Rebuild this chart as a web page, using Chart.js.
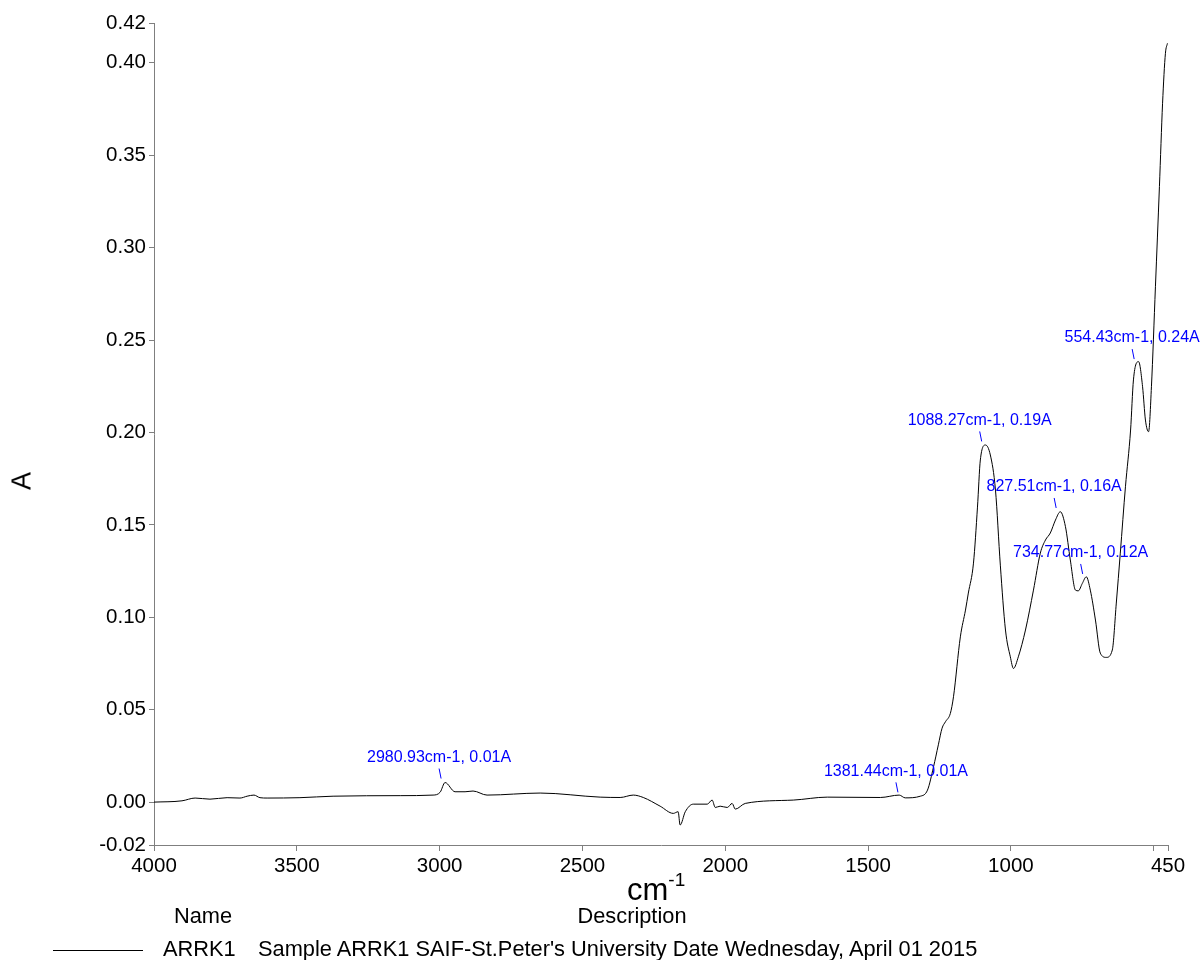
<!DOCTYPE html>
<html><head><meta charset="utf-8">
<script src="https://cdn.jsdelivr.net/npm/chart.js@4/dist/chart.umd.min.js"></script>
<style>
body{margin:0;background:#fff;font-family:"Liberation Sans",Arial,sans-serif;}
#wrap{position:relative;width:1201px;height:960px;overflow:hidden;background:#fff;}
canvas{position:absolute;left:0;top:0;}
.t{position:absolute;color:#000;white-space:nowrap;line-height:1;}
</style></head><body>
<div id="wrap">
<canvas id="c" width="1201" height="960"></canvas>
<div class="t" style="left:22px;top:481px;font-size:27px;transform:translate(-50%,-50%) rotate(-90deg);">A</div>
<div class="t" style="left:627px;top:874px;font-size:31px;">cm<span style="font-size:19px;position:relative;top:-14px;">-1</span></div>
<div class="t" style="left:203px;top:916px;font-size:21.8px;transform:translate(-50%,-50%);">Name</div>
<div class="t" style="left:632px;top:916px;font-size:21.8px;transform:translate(-50%,-50%);">Description</div>
<div style="position:absolute;left:53px;top:950px;width:90px;height:1px;background:#000;"></div>
<div class="t" style="left:163px;top:949px;font-size:21.8px;transform:translate(0,-50%);">ARRK1</div>
<div class="t" style="left:258px;top:949px;font-size:21.8px;transform:translate(0,-50%);">Sample ARRK1 SAIF-St.Peter's University Date Wednesday, April 01 2015</div>
</div>
<script>
const wavenumbers = [4000,3902,3856,3804,3744,3699,3674,3650,3629,3604,3489,3373,3138,3023,2998,2981,2946,2911,2883,2834,2648,2438,2368,2322,2287,2228,2182,2165,2158,2140,2112,2063,2046,2035,2018,1993,1976,1965,1930,1762,1643,1457,1391,1370,1317,1292,1271,1254,1241,1229,1212,1201,1177,1159,1149,1131,1117,1107,1089,1072,1054,1037,1019,1002,991,974,949,921,897,879,862,844,827,809,792,774,764,750,736,722,704,687,666,645,631,617,599,581,571,553,539,529,518,508,494,480,469,459,452];
const absorbance = [0.0000,0.0007,0.0022,0.0016,0.0024,0.0022,0.0032,0.0038,0.0024,0.0022,0.0024,0.0032,0.0035,0.0038,0.0054,0.0106,0.0056,0.0056,0.0060,0.0038,0.0049,0.0027,0.0025,0.0038,0.0025,-0.0022,-0.0061,-0.0052,-0.0124,-0.0052,-0.0011,-0.0011,0.0011,-0.0029,-0.0022,-0.0029,-0.0007,-0.0038,-0.0007,0.0011,0.0027,0.0025,0.0038,0.0023,0.0032,0.0065,0.0190,0.0310,0.0400,0.0435,0.0480,0.0570,0.0894,0.1039,0.1131,0.1293,0.1596,0.1851,0.1932,0.1878,0.1688,0.1282,0.0931,0.0786,0.0723,0.0786,0.0931,0.1147,0.1347,0.1418,0.1456,0.1526,0.1571,0.1490,0.1310,0.1147,0.1143,0.1183,0.1219,0.1147,0.0985,0.0806,0.0783,0.0823,0.1077,0.1347,0.1706,0.2013,0.2284,0.2383,0.2247,0.2067,0.2004,0.2247,0.2788,0.3330,0.3781,0.4051,0.4105];
const xTickValues = [4000,3500,3000,2500,2000,1500,1000,500,450];
const xTickLabels = ["4000","3500","3000","2500","2000","1500","1000","","450"];
const yTickValues = [-0.0232,0,0.05,0.10,0.15,0.20,0.25,0.30,0.35,0.40,0.4215];
const yTickLabels = ["-0.02","0.00","0.05","0.10","0.15","0.20","0.25","0.30","0.35","0.40","0.42"];
const peakWavenumbers = [2980.93,1381.44,1088.27,827.51,734.77,554.43];
const peakLabels = ["2980.93cm-1, 0.01A","1381.44cm-1, 0.01A","1088.27cm-1, 0.19A","827.51cm-1, 0.16A","734.77cm-1, 0.12A","554.43cm-1, 0.24A"];

const FONT = '"Liberation Sans", Arial, sans-serif';

function interpAt(wn){
  for(let i=0;i<wavenumbers.length-1;i++){
    const a=wavenumbers[i], b=wavenumbers[i+1];
    if(wn<=a && wn>=b){
      const t=(a-wn)/(a-b);
      return absorbance[i]+(absorbance[i+1]-absorbance[i])*t;
    }
  }
  return 0;
}

const peakPlugin = {
  id:'peaks',
  afterDatasetsDraw(chart){
    const ctx=chart.ctx, xs=chart.scales.x, ys=chart.scales.y;
    ctx.save();
    ctx.strokeStyle='#0000ff';
    ctx.fillStyle='#0000ff';
    ctx.lineWidth=1;
    ctx.font='16px '+FONT;
    ctx.textAlign='center';
    ctx.textBaseline='middle';
    peakWavenumbers.forEach((wn,i)=>{
      const x=xs.getPixelForValue(wn);
      const y=ys.getPixelForValue(interpAt(wn));
      ctx.beginPath();
      ctx.moveTo(x-4,y-4);
      ctx.lineTo(x-6,y-14);
      ctx.stroke();
      ctx.fillText(peakLabels[i],x-6,y-25);
    });
    ctx.restore();
  }
};

new Chart(document.getElementById('c'),{
  type:'line',
  data:{datasets:[{
    data:wavenumbers.map((w,i)=>({x:w,y:absorbance[i]})),
    borderColor:'#000',borderWidth:1,pointRadius:0,fill:false,
    cubicInterpolationMode:'monotone'
  }]},
  options:{
    responsive:false,animation:false,
    layout:{padding:{left:0,right:33,top:23,bottom:0}},
    plugins:{legend:{display:false},tooltip:{enabled:false}},
    scales:{
      x:{
        type:'linear',reverse:true,min:450,max:4000,
        afterBuildTicks:s=>{s.ticks=xTickValues.map(v=>({value:v}));},
        afterFit:s=>{s.height=115;},
        ticks:{autoSkip:false,maxRotation:0,padding:3,color:'#000',font:{family:FONT,size:20.5},
          callback:(v)=>{const k=xTickValues.indexOf(v);return k>=0?xTickLabels[k]:'';}},
        grid:{drawOnChartArea:false,drawTicks:true,tickLength:6,color:'#7f7f7f'},
        border:{display:true,color:'#7f7f7f',width:1}
      },
      y:{
        type:'linear',min:-0.0232,max:0.4215,
        afterBuildTicks:s=>{s.ticks=yTickValues.map(v=>({value:v}));},
        afterFit:s=>{s.width=154;},
        ticks:{autoSkip:false,padding:3,color:'#000',font:{family:FONT,size:20.5},
          callback:(v)=>{const k=yTickValues.indexOf(v);return k>=0?yTickLabels[k]:'';}},
        grid:{drawOnChartArea:false,drawTicks:true,tickLength:5,color:'#7f7f7f'},
        border:{display:true,color:'#7f7f7f',width:1}
      }
    }
  },
  plugins:[peakPlugin]
});
</script>
</body></html>
